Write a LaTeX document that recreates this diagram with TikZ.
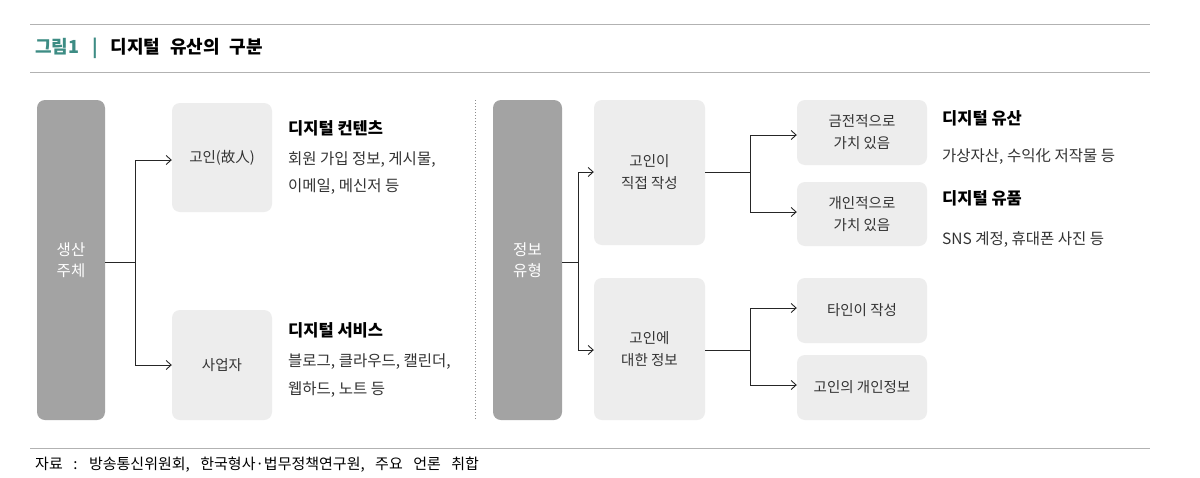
\documentclass[tikz,border=0pt]{standalone}
\usepackage{fontspec}
\setmainfont{Noto Sans CJK KR}
\usetikzlibrary{arrows.meta}
\definecolor{bar}{HTML}{A3A3A3}
\definecolor{box}{HTML}{EDEDED}
\definecolor{tx}{HTML}{333333}
\definecolor{teal}{HTML}{3D8C84}
\newcommand\wideA{\spaceskip=0.55em\relax}
\newcommand\wideB{\spaceskip=0.7em\relax}
\begin{document}
\begin{tikzpicture}[x=1pt,y=-1pt,
 barbox/.style={fill=bar,rounded corners=8pt,text=white,align=center,font=\fontsize{15.5}{21}\selectfont},
 gbox/.style={fill=box,rounded corners=8pt,text=tx,align=center,font=\fontsize{14.5}{22}\selectfont},
 lab/.style={anchor=west,text=tx,font=\fontsize{15.5}{20}\selectfont,inner sep=0},
 blab/.style={anchor=west,text=black,font=\bfseries\fontsize{16.5}{20}\selectfont,inner sep=0},
 conn/.style={draw=black!85,line width=0.9pt},
 arr/.style={conn,-{Straight Barb[length=5pt,width=9pt]}}]
\useasboundingbox (0,0) rectangle (1200,477);
\fill[white] (0,0) rectangle (1200,477);
\draw[black!30] (30,24) -- (1150,24);
\draw[black!30] (30,72) -- (1150,72);
\node[anchor=west,inner sep=0,font=\bfseries\fontsize{18}{22}\selectfont] (title) at (35,48) {\wideA\textcolor{teal}{그림1 \,|\,} 디지털 유산의 구분};
% left
\node[barbox,minimum width=68pt,minimum height=320pt] (L) at (71,260) {생산\\주체};
\node[gbox,minimum width=100pt,minimum height=109pt] (g1) at (222,157.5) {고인(故人)};
\node[gbox,minimum width=100pt,minimum height=110pt] (g2) at (222,365) {사업자};
\coordinate (lj) at (135,262);
\draw[conn] (L.east|-lj) -- (lj);
\draw[conn] (135,160) -- (135,365);
\draw[arr] (135,160) -- (g1.west|-0,160);
\draw[arr] (135,365) -- (g2.west|-0,365);
\node[blab] (t1) at (288,128) {디지털 컨텐츠};
\node[lab] (t2) at (288,160) {회원 가입 정보, 게시물,};
\node[lab] (t3) at (288,187) {이메일, 메신저 등};
\node[blab] (t4) at (288,330) {디지털 서비스};
\node[lab] (t5) at (288,362) {블로그, 클라우드, 캘린더,};
\node[lab] (t6) at (288,390) {웹하드, 노트 등};
\draw[black!45,dotted,line width=1pt] (475,100) -- (475,420);
% right
\node[barbox,minimum width=69pt,minimum height=320pt] (R) at (527.5,260) {정보\\유형};
\node[gbox,minimum width=111pt,minimum height=145pt] (a) at (649.5,172.5) {고인이\\직접 작성};
\node[gbox,minimum width=111pt,minimum height=142pt] (b) at (649.5,349) {고인에\\대한 정보};
\draw[conn] (R.east|-0,262) -- (578,262);
\draw[conn] (578,172) -- (578,350);
\draw[arr] (578,172) -- (a.west|-0,172);
\draw[arr] (578,350) -- (b.west|-0,350);
\node[gbox,minimum width=130pt,minimum height=65pt] (c1) at (862,132.5) {금전적으로\\가치 있음};
\node[gbox,minimum width=130pt,minimum height=64pt] (c2) at (862,214) {개인적으로\\가치 있음};
\node[gbox,minimum width=130pt,minimum height=65pt] (c3) at (862,310.5) {타인이 작성};
\node[gbox,minimum width=130pt,minimum height=65pt] (c4) at (862,387.5) {고인의 개인정보};
\draw[conn] (a.east|-0,172) -- (750,172);
\draw[conn] (750,135) -- (750,212);
\draw[arr] (750,135) -- (c1.west|-0,135);
\draw[arr] (750,212) -- (c2.west|-0,212);
\draw[conn] (b.east|-0,350) -- (750,350);
\draw[conn] (750,308) -- (750,385);
\draw[arr] (750,308) -- (c3.west|-0,308);
\draw[arr] (750,385) -- (c4.west|-0,385);
\node[blab] (r1) at (942,118) {디지털 유산};
\node[lab] (r2) at (942,157) {가상자산, 수익化 저작물 등};
\node[blab] (r3) at (942,198) {디지털 유품};
\node[lab] (r4) at (942,240) {SNS 계정, 휴대폰 사진 등};
\draw[black!30] (30,448) -- (1150,448);
\node[anchor=west,inner sep=0,text=black,font=\fontsize{15}{18}\selectfont] (src) at (35,465) {\wideB 자료 : 방송통신위원회, 한국형사·법무정책연구원, 주요 언론 취합};
\end{tikzpicture}
\end{document}
